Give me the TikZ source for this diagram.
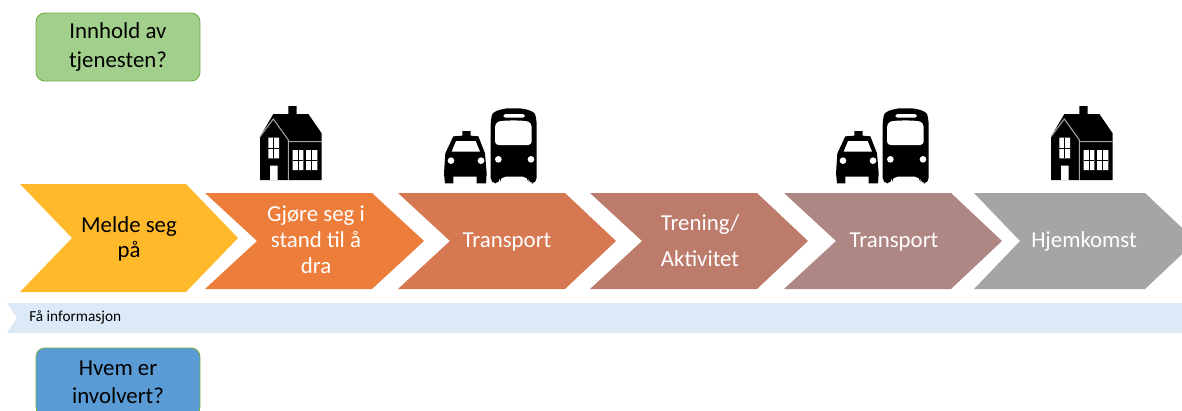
\documentclass[tikz,border=0pt]{standalone}
\usepackage{fontspec}
\setmainfont{Carlito}
\definecolor{boxgreen}{HTML}{A3CF8C}
\definecolor{boxblue}{HTML}{5B9BD5}
\definecolor{edgegreen}{HTML}{70AD47}
\definecolor{band}{HTML}{DCE9F6}
\definecolor{stepa}{HTML}{FFB92B}
\definecolor{stepb}{HTML}{ED7D3B}
\definecolor{stepc}{HTML}{D67852}
\definecolor{stepd}{HTML}{BD7B6C}
\definecolor{stepe}{HTML}{AE8683}
\definecolor{stepf}{HTML}{A5A5A5}
\tikzset{
  question/.style={draw=edgegreen, line width=0.5pt, rounded corners=5pt, minimum width=3.28cm, minimum height=1.36cm, align=center, font=\fontsize{13}{16}\selectfont, inner sep=0pt},
  steptext/.style={text=white, align=center, font=\fontsize{13}{14.7}\selectfont, inner sep=0pt},
  icon/.style={x=0.00667cm, y=-0.00667cm},
  house/.pic={
    \begin{scope}[icon]
    \fill[black] (60,255) -- (60,125) -- (100,57) -- (145,57) -- (145,33) -- (170,33) -- (170,57) -- (205,57) -- (245,115) -- (245,255) -- cycle;
    \draw[gray!70, line width=0.6pt] (60,125) -- (100,72) -- (145,135) -- (145,255) (145,140) -- (245,140);
    \fill[white] (85,128) rectangle (117,190) (90,212) rectangle (113,255) (158,165) rectangle (190,225) (198,165) rectangle (232,225);
    \draw[black, line width=0.4pt] (101,128) -- (101,190) (85,160) -- (117,160) (174,165) -- (174,225) (158,195) -- (190,195) (215,165) -- (215,225) (198,195) -- (232,195);
    \end{scope}
  },
  cars/.pic={
    \begin{scope}[icon]
    % taxi
    \fill[black] (97,108) -- (122,108) -- (122,122) -- (145,124) -- (165,175) -- (170,235) -- (168,265) -- (140,265) -- (140,245) -- (70,245) -- (70,265) -- (45,265) -- (42,235) -- (46,175) -- (70,124) -- (97,122) -- cycle;
    \fill[white] (78,138) -- (137,138) -- (150,170) -- (65,170) -- cycle;
    \fill[white] (63,197) circle (10) (153,197) circle (10);
    % bus
    \fill[black, rounded corners=3pt] (182,265) -- (182,75) .. controls (190,45) and (230,40) .. (250,40) .. controls (275,40) and (312,45) .. (320,75) -- (320,265) -- (295,265) -- (295,245) -- (210,245) -- (210,265) -- cycle;
    \fill[white, rounded corners=2pt] (195,150) -- (195,85) .. controls (215,75) and (285,75) .. (305,85) -- (305,150) -- cycle;
    \fill[white, rounded corners=1pt] (220,57) rectangle (285,68);
    \fill[white] (205,193) circle (10) (303,193) circle (10);
    \end{scope}
  }
}
\begin{document}
\begin{tikzpicture}[x=0.02cm, y=-0.02cm]
\useasboundingbox (0,0) rectangle (1182,410);
\clip (0,0) rectangle (1182,410);

\fill[band] (7,303) -- (1182,303) -- (1182,333) -- (7,333) -- (17,318) -- cycle;

\fill[stepa] (20,184) -- (186,184) -- (238,238) -- (186,292) -- (20,292) -- (72,238) -- cycle;
\fill[stepb] (205,193) -- (372,193) -- (424,241) -- (372,289) -- (205,289) -- (257,241) -- cycle;
\fill[stepc] (398,193) -- (565,193) -- (616,241) -- (565,289) -- (398,289) -- (450,241) -- cycle;
\fill[stepd] (590,193) -- (757,193) -- (808,241) -- (757,289) -- (590,289) -- (642,241) -- cycle;
\fill[stepe] (784,193) -- (951,193) -- (1002,241) -- (951,289) -- (784,289) -- (836,241) -- cycle;
\fill[stepf] (974,193) -- (1145,193) -- (1196,241) -- (1145,289) -- (974,289) -- (1020,241) -- cycle;

\node[steptext, text=black, font=\fontsize{13}{14.2}\selectfont] (melde) at (129,239) {Melde seg\\på};
\node[steptext] (gjore) at (316,240) {Gjøre seg i\\stand til å\\dra};
\node[steptext] (transport1) at (507,242) {Transport};
\node[steptext, font=\fontsize{13}{20.4}\selectfont] (trening) at (700,241) {Trening/\\Aktivitet};
\node[steptext] (transport2) at (894,242) {Transport};
\node[steptext] (hjemkomst) at (1084,242) {Hjemkomst};

\node[anchor=west, inner sep=0pt, font=\fontsize{8.7}{10}\selectfont] (info) at (29,317) {Få informasjon};

\node[question, fill=boxgreen] (innhold) at (118,47) {Innhold av\\tjenesten?};
\node[question, fill=boxblue] (hvem) at (118,382) {Hvem er\\involvert?};

\pic at (240,95) {house};
\pic at (1031,95) {house};
\pic at (430,95) {cars};
\pic at (822,95) {cars};
\end{tikzpicture}
\end{document}
